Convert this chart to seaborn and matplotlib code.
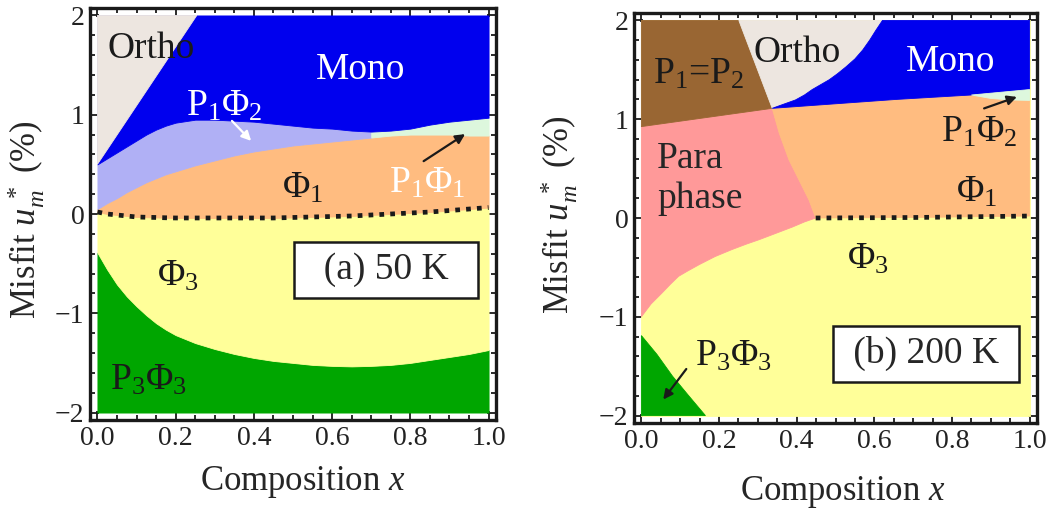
import numpy as np
import matplotlib
matplotlib.use("Agg")
import matplotlib.pyplot as plt
from matplotlib.ticker import MultipleLocator, FormatStrFormatter
import seaborn as sns

# ---------------- Panel (a): 50 K ----------------
xa = [0.000, 0.025, 0.050, 0.075, 0.100, 0.125, 0.150, 0.175, 0.200, 0.25, 0.30,
      0.35, 0.40, 0.45, 0.50, 0.55, 0.60, 0.65, 0.70, 0.75, 0.80, 0.85, 0.90, 0.95, 1.00]
a_mono_bottom = [0.50, 0.56, 0.62, 0.68, 0.74, 0.80, 0.85, 0.89, 0.92, 0.95, 0.95,
                 0.94, 0.93, 0.91, 0.89, 0.87, 0.86, 0.84, 0.83, 0.84, 0.86, 0.90, 0.93, 0.95, 0.97]
a_phi1_top = [0.05, 0.11, 0.16, 0.22, 0.27, 0.32, 0.36, 0.40, 0.43, 0.49, 0.54,
              0.59, 0.63, 0.66, 0.69, 0.71, 0.73, 0.75, 0.77, 0.79, 0.80, 0.80, 0.80, 0.79, 0.79]
a_phi1_phi3 = [0.02, 0.00, -0.01, -0.02, -0.03, -0.033, -0.035, -0.038, -0.04, -0.04, -0.04,
               -0.04, -0.04, -0.04, -0.035, -0.03, -0.025, -0.02, -0.01, 0.00, 0.01, 0.02,
               0.035, 0.05, 0.065]
a_p3_top = [-0.39, -0.56, -0.71, -0.83, -0.93, -1.02, -1.10, -1.165, -1.22, -1.30, -1.36,
            -1.41, -1.45, -1.48, -1.50, -1.52, -1.53, -1.535, -1.53, -1.52, -1.50, -1.47,
            -1.44, -1.41, -1.37]
a_ortho_x = [0.0, 0.254]
a_ortho_y = [0.50, 2.00]
a_split_x = 0.70   # P1Phi2 | P1Phi1 split

# ---------------- Panel (b): 200 K ----------------
b_brown_bot_x = [0.0, 0.337]
b_brown_bot_y = [0.925, 1.11]
b_brown_ortho_x = [0.251, 0.337]
b_brown_ortho_y = [2.00, 1.11]
b_ortho_mono_x = [0.337, 0.365, 0.397, 0.42, 0.44, 0.462, 0.484, 0.505, 0.527, 0.55, 0.57, 0.588, 0.604, 0.621]
b_ortho_mono_y = [1.11, 1.15, 1.195, 1.245, 1.30, 1.35, 1.40, 1.46, 1.53, 1.61, 1.70, 1.80, 1.90, 2.00]
b_mono_bot_x = [0.337, 0.656, 0.85, 1.00]
b_mono_bot_y = [1.11, 1.20, 1.245, 1.30]
b_phi1_top_x = [0.337, 0.656, 0.85, 0.90, 0.95, 1.00]
b_phi1_top_y = [1.11, 1.20, 1.245, 1.21, 1.195, 1.19]
b_para_right_x = [0.337, 0.355, 0.38, 0.406, 0.432, 0.449]
b_para_right_y = [1.11, 0.86, 0.59, 0.385, 0.18, 0.00]
b_para_bot_x = [0.449, 0.42, 0.39, 0.35, 0.303, 0.27, 0.233, 0.19, 0.15, 0.12, 0.096,
                0.075, 0.053, 0.025, 0.0]
b_para_bot_y = [0.00, -0.04, -0.09, -0.15, -0.22, -0.265, -0.32, -0.39, -0.47, -0.535,
                -0.59, -0.67, -0.76, -0.87, -1.00]
b_p3_x = [0.0, 0.04, 0.08, 0.12, 0.165]
b_p3_y = [-1.19, -1.38, -1.60, -1.79, -2.00]
b_dot_x = [0.449, 0.70, 1.00]
b_dot_y = [0.00, 0.005, 0.02]

X_RANGE = [0.0, 1.0]
Y_RANGE = [-2.0, 2.0]

C = dict(ortho="#EDE6E0", mono="#0000EE", lav="#B0B0F5", orange="#FFBC80",
         lgreen="#DDF7DD", yellow="#FFFF99", green="#00A600",
         brown="#996633", pink="#FF9999")

sns.set_theme(style="ticks")
plt.rcParams["font.family"] = ["Liberation Serif", "DejaVu Serif"]
plt.rcParams["mathtext.fontset"] = "custom"
plt.rcParams["mathtext.rm"] = "Liberation Serif"
plt.rcParams["mathtext.it"] = "Liberation Serif:italic"
plt.rcParams["axes.unicode_minus"] = True

fig = plt.figure(figsize=(10.57, 5.16), dpi=100)
axa = fig.add_axes([90 / 1057, 1 - 420 / 516, 406 / 1057, 412 / 516])
axb = fig.add_axes([634 / 1057, 1 - 423 / 516, 403 / 1057, 410 / 516])

FS = 27
fk = dict(linewidth=0.6)

# ----- draw panel (a)
xa_arr = np.array(xa)
axa.fill_between(xa, Y_RANGE[0], a_p3_top, color=C["green"], **fk)
axa.fill_between(xa, a_p3_top, a_phi1_phi3, color=C["yellow"], **fk)
axa.fill_between(xa, a_phi1_phi3, a_phi1_top, color=C["orange"], **fk)
axa.fill_between(xa, a_phi1_top, a_mono_bottom, where=xa_arr <= a_split_x, color=C["lav"], **fk)
axa.fill_between(xa, a_phi1_top, a_mono_bottom, where=xa_arr >= a_split_x, color=C["lgreen"], **fk)
axa.fill_between(xa, a_mono_bottom, Y_RANGE[1], color=C["mono"], **fk)
axa.fill(a_ortho_x + [X_RANGE[0]], a_ortho_y + [Y_RANGE[1]], color=C["ortho"], **fk)
sns.lineplot(x=xa, y=a_phi1_phi3, ax=axa, color="k", lw=3.4, linestyle=(0, (1, 1.3)),
             dash_capstyle="butt", sort=False)

# ----- draw panel (b)
axb.fill_between(X_RANGE, Y_RANGE[0], Y_RANGE[1], color=C["yellow"], **fk)
axb.fill(b_brown_bot_x + b_para_right_x[1:] + b_para_bot_x[1:],
         b_brown_bot_y + b_para_right_y[1:] + b_para_bot_y[1:], color=C["pink"], **fk)
axb.fill(b_dot_x + b_phi1_top_x[::-1] + b_para_right_x[1:-1],
         b_dot_y + b_phi1_top_y[::-1] + b_para_right_y[1:-1], color=C["orange"], **fk)
axb.fill([X_RANGE[0]] + b_brown_ortho_x + b_brown_bot_x[::-1][1:],
         [Y_RANGE[1]] + b_brown_ortho_y + b_brown_bot_y[::-1][1:], color=C["brown"], **fk)
axb.fill(b_ortho_mono_x + b_brown_ortho_x, b_ortho_mono_y + b_brown_ortho_y,
         color=C["ortho"], **fk)
axb.fill(b_ortho_mono_x + [X_RANGE[1]] + b_mono_bot_x[::-1],
         b_ortho_mono_y + [Y_RANGE[1]] + b_mono_bot_y[::-1], color=C["mono"], **fk)
axb.fill(b_mono_bot_x[2:] + b_phi1_top_x[2:][::-1],
         b_mono_bot_y[2:] + b_phi1_top_y[2:][::-1], color=C["lgreen"], **fk)
axb.fill([X_RANGE[0]] + b_p3_x, [Y_RANGE[0]] + b_p3_y, color=C["green"], **fk)
sns.lineplot(x=b_dot_x, y=b_dot_y, ax=axb, color="k", lw=3.4, linestyle=(0, (1, 1.3)),
             dash_capstyle="butt", sort=False)

# ----- axes styling
for ax in (axa, axb):
    ax.set_xlim(-0.019, 1.019)
    ax.set_ylim(-2.075, 2.075)
    ax.xaxis.set_major_locator(MultipleLocator(0.2))
    ax.xaxis.set_minor_locator(MultipleLocator(0.05))
    ax.xaxis.set_major_formatter(FormatStrFormatter("%.1f"))
    ax.yaxis.set_major_locator(MultipleLocator(1))
    ax.yaxis.set_minor_locator(MultipleLocator(0.2))
    ax.tick_params(which="both", direction="in", top=True, right=True,
                   width=1.3, color="k", labelsize=20, pad=4, labelcolor="#222222")
    ax.tick_params(which="major", length=6.5)
    ax.tick_params(which="minor", length=3.5)
    for s in ax.spines.values():
        s.set_linewidth(2.4)
        s.set_color("k")
    ax.set_xlabel(r"Composition $x$", fontsize=25)
    ax.set_ylabel(r"Misfit $u_m^{\;*}$ (%)", fontsize=25)

axa.xaxis.set_label_coords(0.523, -0.108)
axa.yaxis.set_label_coords(-0.106, 0.485)
axb.xaxis.set_label_coords(0.519, -0.124)
axb.yaxis.set_label_coords(-0.134, 0.507)

# ----- text labels panel (a)
def lab(ax, x, y, s, c="k", **kw):
    ax.text(x, y, s, fontsize=FS, color=c, ha="center", va="baseline", **kw)

lab(axa, 0.138, 1.568, "Ortho")
lab(axa, 0.673, 1.36, "Mono", "white")
lab(axa, 0.325, 0.988, r"P$_1$Φ$_2$", "white")
lab(axa, 0.526, 0.164, r"Φ$_1$")
lab(axa, 0.843, 0.215, r"P$_1$Φ$_1$", "white")
lab(axa, 0.205, -0.726, r"Φ$_3$")
lab(axa, 0.131, -1.767, r"P$_3$Φ$_3$")
axa.annotate("", xy=(0.398, 0.716), xytext=(0.339, 0.958),
             arrowprops=dict(arrowstyle="-|>", color="white", lw=1.6, mutation_scale=14))
axa.annotate("", xy=(0.946, 0.82), xytext=(0.828, 0.517),
             arrowprops=dict(arrowstyle="-|>", color="k", lw=1.6, mutation_scale=14))
axa.text(0.738, -0.656, "  (a) 50 K  ", fontsize=FS, ha="center", va="baseline",
         bbox=dict(boxstyle="square,pad=0.28", fc="white", ec="k", lw=1.8))

# ----- text labels panel (b)
lab(axb, 0.148, 1.364, r"P$_1$=P$_2$")
lab(axb, 0.401, 1.583, "Ortho")
lab(axb, 0.796, 1.49, "Mono", "white")
lab(axb, 0.870, 0.773, r"P$_1$Φ$_2$")
axb.text(0.040, 0.503, "Para", fontsize=FS, ha="left", va="baseline")
axb.text(0.040, 0.098, "phase", fontsize=FS, ha="left", va="baseline")
lab(axb, 0.863, 0.165, r"Φ$_1$")
lab(axb, 0.584, -0.51, r"Φ$_3$")
lab(axb, 0.237, -1.489, r"P$_3$Φ$_3$")
axb.annotate("", xy=(0.974, 1.235), xytext=(0.876, 1.10),
             arrowprops=dict(arrowstyle="-|>", color="k", lw=1.6, mutation_scale=14))
axb.annotate("", xy=(0.052, -1.86), xytext=(0.12, -1.506),
             arrowprops=dict(arrowstyle="-|>", color="k", lw=1.6, mutation_scale=14))
axb.text(0.733, -1.469, " (b) 200 K ", fontsize=FS, ha="center", va="baseline",
         bbox=dict(boxstyle="square,pad=0.28", fc="white", ec="k", lw=1.8))

fig.savefig("out.png", dpi=100)
